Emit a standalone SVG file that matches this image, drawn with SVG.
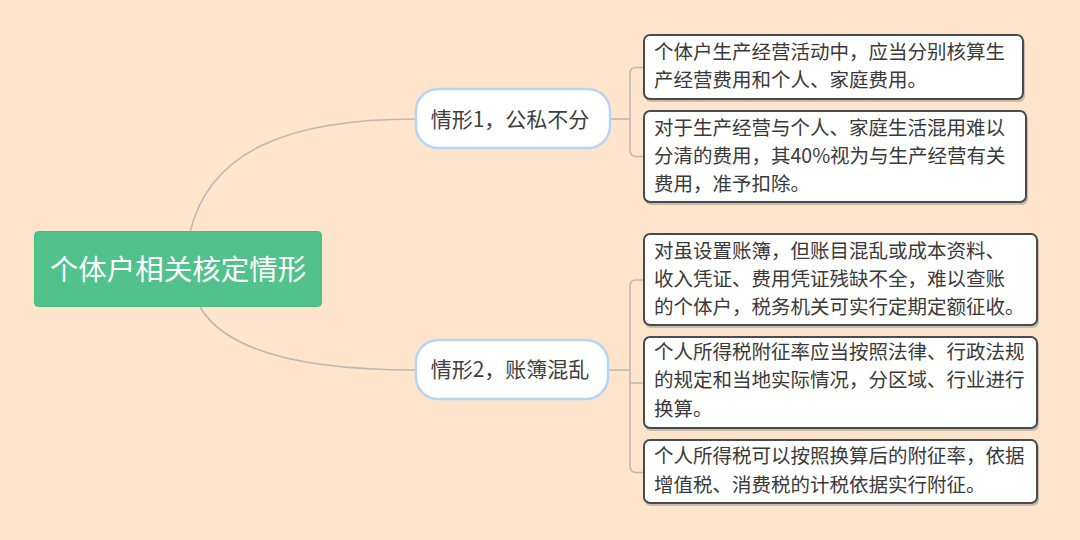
<svg xmlns="http://www.w3.org/2000/svg" width="1080" height="540" viewBox="0 0 1080 540">
<defs>
<style>
.bg{fill:#fde4cb}
.conn{fill:none;stroke:#bdbab5;stroke-width:1.6}
.root{fill:#51c28b;stroke:#4bbb84;stroke-width:1}
.roott{font-family:"Noto Sans CJK SC","Noto Sans",sans-serif;font-size:28.5px;fill:#ffffff}
.br{fill:#ffffff;stroke:#b7d5f6;stroke-width:2.5}
.brt{font-family:"Noto Sans CJK SC","Noto Sans",sans-serif;font-size:21px;fill:#3f3f3f}
.leaf{fill:#ffffff;stroke:#474c52;stroke-width:2}
.leafsh{fill:#6a6d70;opacity:0.35}
.lt{font-family:"Noto Sans CJK SC","Noto Sans",sans-serif;font-size:19.5px;fill:#3a3a3a}
</style>
</defs>
<rect class="bg" x="0" y="0" width="1080" height="540"/>
<g id="connectors">
<path class="conn" d="M190,232 C210,150 290,119 416,119"/>
<path class="conn" d="M200,307 C225,350 300,370 416,370"/>
<path class="conn" d="M610,119 H630"/>
<path class="conn" d="M644,67.5 H636 Q630,67.5 630,73.5 V150 Q630,156.5 636,156.5 H644"/>
<path class="conn" d="M608,370 H630"/>
<path class="conn" d="M644,280 H636 Q630,280 630,286 V466 Q630,472.5 636,472.5 H644"/>
<path class="conn" d="M630,383 H644"/>
</g>
<g id="root">
<rect class="root" x="34.5" y="231.5" width="287" height="75" rx="4"/>
<text class="roott" x="178" y="279.5" text-anchor="middle">个体户相关核定情形</text>
</g>
<g id="branch1">
<rect class="br" x="416" y="89" width="194" height="59" rx="22"/>
<text class="brt" x="510" y="127" text-anchor="middle">情形1，公私不分</text>
</g>
<g id="branch2">
<rect class="br" x="416" y="340" width="192" height="59" rx="22"/>
<text class="brt" x="510" y="377" text-anchor="middle">情形2，账簿混乱</text>
</g>
<g id="leaf1">
<rect class="leafsh" x="645" y="37" width="380" height="65" rx="6"/>
<rect class="leaf" x="644" y="35" width="379" height="64" rx="6"/>
<text class="lt" x="654" y="59">个体户生产经营活动中，应当分别核算生</text>
<text class="lt" x="654" y="87">产经营费用和个人、家庭费用。</text>
</g>
<g id="leaf2">
<rect class="leafsh" x="645" y="113" width="383" height="92" rx="6"/>
<rect class="leaf" x="644" y="111" width="382" height="91" rx="6"/>
<text class="lt" x="654" y="135">对于生产经营与个人、家庭生活混用难以</text>
<text class="lt" x="654" y="163">分清的费用，其40%视为与生产经营有关</text>
<text class="lt" x="654" y="191">费用，准予扣除。</text>
</g>
<g id="leaf3">
<rect class="leafsh" x="645" y="236" width="394" height="92" rx="6"/>
<rect class="leaf" x="644" y="234" width="393" height="91" rx="6"/>
<text class="lt" x="654" y="258">对虽设置账簿，但账目混乱或成本资料、</text>
<text class="lt" x="654" y="286">收入凭证、费用凭证残缺不全，难以查账</text>
<text class="lt" x="654" y="314">的个体户，税务机关可实行定期定额征收。</text>
</g>
<g id="leaf4">
<rect class="leafsh" x="645" y="339" width="394" height="92" rx="6"/>
<rect class="leaf" x="644" y="337" width="393" height="91" rx="6"/>
<text class="lt" x="654" y="359">个人所得税附征率应当按照法律、行政法规</text>
<text class="lt" x="654" y="387">的规定和当地实际情况，分区域、行业进行</text>
<text class="lt" x="654" y="416">换算。</text>
</g>
<g id="leaf5">
<rect class="leafsh" x="645" y="442" width="394" height="64" rx="6"/>
<rect class="leaf" x="644" y="440" width="393" height="63" rx="6"/>
<text class="lt" x="654" y="463">个人所得税可以按照换算后的附征率，依据</text>
<text class="lt" x="654" y="492">增值税、消费税的计税依据实行附征。</text>
</g>
</svg>
